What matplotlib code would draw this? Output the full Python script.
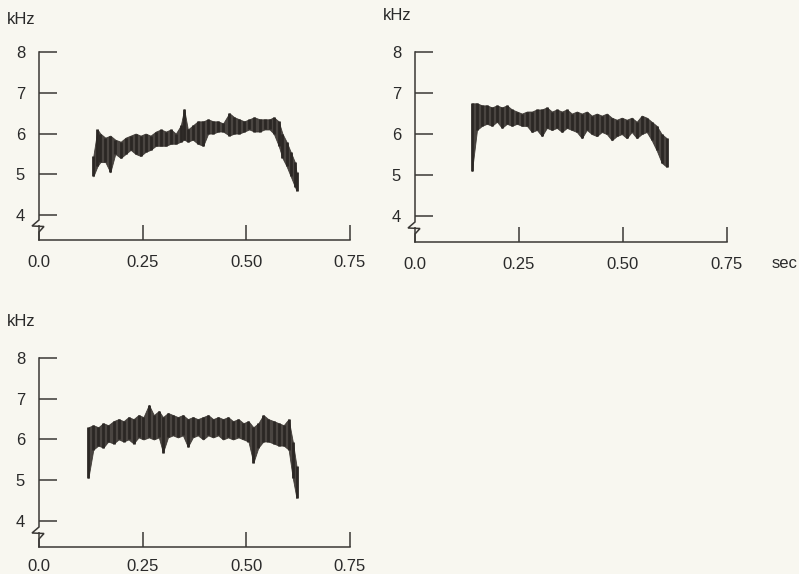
import numpy as np
import matplotlib
matplotlib.use("Agg")
import matplotlib.pyplot as plt

plt.rcParams["font.family"] = ["Liberation Sans", "DejaVu Sans"]

# time ticks (sec) and frequency ticks (kHz)
x_ticks = [0.0, 0.25, 0.50, 0.75]
x_labels = ["0.0", "0.25", "0.50", "0.75"]
y_ticks = [4, 5, 6, 7, 8]

# panel A (top left): time, upper edge, lower edge of the trace
a_t = [0.131, 0.141, 0.148, 0.160, 0.172, 0.184, 0.197, 0.209, 0.221, 0.233,
       0.245, 0.257, 0.269, 0.282, 0.294, 0.306, 0.318, 0.330, 0.342, 0.350,
       0.359, 0.371, 0.383, 0.396, 0.408, 0.420, 0.432, 0.444, 0.459, 0.471,
       0.483, 0.495, 0.507, 0.519, 0.532, 0.544, 0.556, 0.566, 0.578, 0.587,
       0.597, 0.607, 0.617, 0.621]
a_hi = [5.45, 6.10, 6.00, 5.90, 5.95, 5.85, 5.80, 5.90, 5.95, 6.00,
        5.95, 6.00, 5.95, 6.05, 6.10, 6.05, 6.10, 6.00, 6.20, 6.60,
        6.10, 6.20, 6.30, 6.30, 6.35, 6.30, 6.30, 6.25, 6.50, 6.40,
        6.35, 6.30, 6.35, 6.40, 6.35, 6.35, 6.35, 6.40, 6.30, 6.00,
        5.80, 5.55, 5.30, 5.05]
a_lo = [4.95, 5.20, 5.30, 5.30, 5.05, 5.50, 5.40, 5.50, 5.60, 5.50,
        5.45, 5.55, 5.60, 5.70, 5.70, 5.70, 5.75, 5.75, 5.80, 5.85,
        5.80, 5.85, 5.75, 5.70, 6.00, 6.00, 6.05, 6.05, 5.95, 6.00,
        6.00, 6.05, 6.10, 6.05, 6.05, 6.10, 6.10, 6.00, 5.70, 5.40,
        5.20, 4.95, 4.70, 4.60]

# panel B (top right)
b_t = [0.137, 0.149, 0.161, 0.173, 0.185, 0.197, 0.209, 0.221, 0.233, 0.245,
       0.257, 0.269, 0.281, 0.293, 0.305, 0.317, 0.329, 0.341, 0.353, 0.365,
       0.377, 0.389, 0.401, 0.413, 0.425, 0.437, 0.449, 0.461, 0.473, 0.485,
       0.497, 0.509, 0.521, 0.533, 0.545, 0.557, 0.569, 0.581, 0.593, 0.605]
b_hi = [6.75, 6.75, 6.70, 6.70, 6.65, 6.70, 6.65, 6.70, 6.60, 6.55,
        6.50, 6.55, 6.55, 6.60, 6.60, 6.65, 6.55, 6.60, 6.55, 6.60,
        6.50, 6.55, 6.50, 6.55, 6.45, 6.50, 6.45, 6.50, 6.40, 6.35,
        6.40, 6.35, 6.40, 6.30, 6.45, 6.40, 6.30, 6.20, 6.00, 5.90]
b_lo = [5.10, 6.10, 6.20, 6.25, 6.20, 6.30, 6.15, 6.25, 6.20, 6.25,
        6.20, 6.20, 6.05, 6.10, 5.95, 6.15, 6.10, 6.15, 6.05, 6.15,
        6.10, 6.05, 5.90, 6.10, 6.00, 5.95, 6.05, 6.00, 5.85, 5.95,
        6.00, 5.90, 6.05, 5.90, 6.00, 6.05, 5.85, 5.60, 5.30, 5.20]

# panel C (bottom left)
c_t = [0.119, 0.131, 0.143, 0.155, 0.167, 0.180, 0.192, 0.204, 0.216, 0.228,
       0.240, 0.252, 0.265, 0.277, 0.289, 0.299, 0.311, 0.323, 0.335, 0.347,
       0.359, 0.371, 0.383, 0.396, 0.408, 0.420, 0.432, 0.444, 0.456, 0.468,
       0.481, 0.493, 0.505, 0.517, 0.529, 0.541, 0.553, 0.566, 0.578, 0.590,
       0.602, 0.612, 0.621]
c_hi = [6.30, 6.35, 6.30, 6.40, 6.35, 6.45, 6.50, 6.45, 6.55, 6.50,
        6.60, 6.55, 6.85, 6.60, 6.70, 6.55, 6.65, 6.60, 6.55, 6.60,
        6.50, 6.55, 6.50, 6.55, 6.60, 6.50, 6.55, 6.50, 6.55, 6.45,
        6.50, 6.40, 6.45, 6.30, 6.40, 6.60, 6.50, 6.45, 6.40, 6.35,
        6.50, 5.95, 5.35]
c_lo = [5.05, 5.75, 5.85, 5.80, 5.95, 5.90, 6.00, 5.95, 6.00, 5.90,
        6.05, 6.00, 6.05, 6.00, 6.05, 5.68, 6.05, 6.10, 6.05, 6.10,
        5.82, 6.05, 6.10, 6.00, 6.10, 6.05, 6.10, 6.00, 6.05, 6.00,
        6.05, 6.00, 5.95, 5.43, 5.80, 5.95, 5.95, 5.90, 5.85, 5.85,
        5.75, 5.05, 4.56]

W, H = 799, 574
BG = "#f8f7f0"
INK = "#3a3835"
TEXT = "#2a2a2a"
TRACE = "#37322e"


def draw_panel(fig, box, t, hi, lo, ymin, xpad=11):
    x0, x1, ytop, ybot = box
    ax = fig.add_axes([x0 / W, 1 - ybot / H, (x1 - x0) / W, (ybot - ytop) / H])
    ax.set_facecolor("none")
    ax.set_xlim(0, 0.75)
    ax.set_ylim(ymin, 8)

    # band of the trace plus vertical streaks at each reading
    ax.fill_between(t, lo, hi, color=TRACE, lw=0.6, edgecolor=TRACE, alpha=0.9)
    ax.vlines(t, lo, hi, color="#2b2724", lw=2.0)

    for s in ["top", "right", "left"]:
        ax.spines[s].set_visible(False)
    ax.spines["bottom"].set_bounds(0, 0.75)
    ax.spines["bottom"].set_color(INK)
    ax.spines["bottom"].set_linewidth(1.1)

    ax.set_xticks(x_ticks, x_labels)
    ax.set_yticks(y_ticks)
    ax.tick_params(axis="x", direction="in", length=11, width=1.1, color=INK,
                   pad=xpad, labelsize=12, labelcolor=TEXT)
    ax.tick_params(axis="y", direction="in", length=13, width=1.1, color=INK,
                   pad=10, labelsize=12, labelcolor=TEXT)

    # vertical axis with a break mark near the bottom
    sx = 0.75 / (x1 - x0)
    sy = (8 - ymin) / (ybot - ytop)
    zx = [0, 0, -7 * sx, 5 * sx, 0, 0]
    zy = [8, ymin + 20 * sy, ymin + 14 * sy, ymin + 13.5 * sy, ymin + 8 * sy, ymin]
    ax.plot(zx, zy, color=INK, lw=1.1, clip_on=False, solid_joinstyle="miter")
    return ax


fig = plt.figure(figsize=(W / 100, H / 100), dpi=100, facecolor=BG)

draw_panel(fig, (39, 350, 52, 240), a_t, a_hi, a_lo, 3.39)
draw_panel(fig, (415, 727, 52, 242), b_t, b_hi, b_lo, 3.37)
draw_panel(fig, (39, 350, 358, 547), c_t, c_hi, c_lo, 3.36, xpad=8.5)

fig.text(7 / W, 1 - 19 / H, "kHz", fontsize=12, va="center", ha="left", color=TEXT)
fig.text(383 / W, 1 - 15 / H, "kHz", fontsize=12, va="center", ha="left", color=TEXT)
fig.text(7 / W, 1 - 322 / H, "kHz", fontsize=12, va="center", ha="left", color=TEXT)
fig.text(797 / W, 1 - 264 / H, "sec", fontsize=12, va="center", ha="right", color=TEXT)

fig.savefig("out.png", dpi=100, facecolor=BG)
